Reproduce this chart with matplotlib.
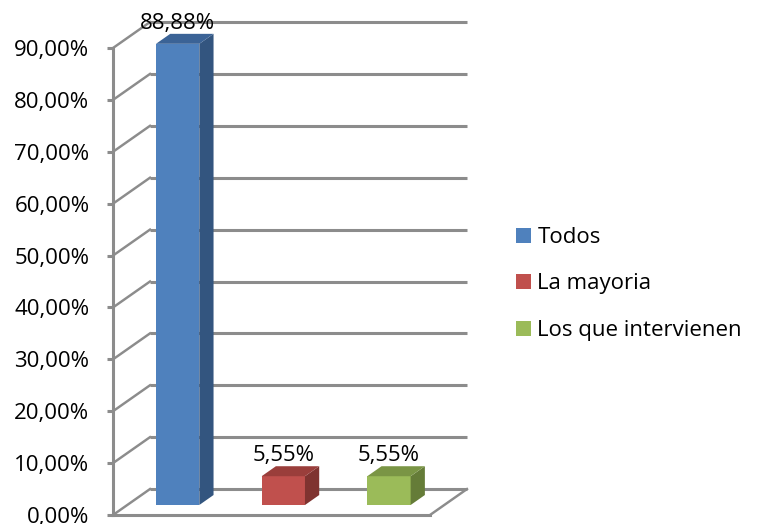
import matplotlib
matplotlib.use("Agg")
import matplotlib.pyplot as plt
from matplotlib.patches import Polygon, Patch
from matplotlib.ticker import FuncFormatter

categories = ["Todos", "La mayoria", "Los que intervienen"]
values = [88.88, 5.55, 5.55]
labels = ["88,88%", "5,55%", "5,55%"]
yticks = [0, 10, 20, 30, 40, 50, 60, 70, 80, 90]

front_colors = ["#4F81BD", "#C0504D", "#9BBB59"]
top_colors = ["#3B6396", "#9A3E3B", "#7A9545"]
side_colors = ["#33557F", "#7F3330", "#657C38"]

FONT = ["Open Sans", "DejaVu Sans"]
plt.rcParams["font.family"] = FONT
FS = 16

W, H = 762, 524
fig = plt.figure(figsize=(W / 100, H / 100), dpi=100)
# axes box = front plane of the 3D chart
L, R, B, T = 113, 430, 515, 48
ax = fig.add_axes([L / W, (H - B) / H, (R - L) / W, (B - T) / H])
ax.set_xlim(0, 3)
ax.set_ylim(0, 90)

# depth of the wall (data units)
ddx, ddy = 0.35, 5.0
f1, f2 = 0.385, 0.77
grid_c = "#8C8C8C"
lw = 2.2

# back wall gridlines and diagonals
for yv in yticks:
    ax.plot([ddx, 3 + ddx], [yv + ddy, yv + ddy], color=grid_c, lw=lw,
            clip_on=False, zorder=1, solid_capstyle="butt")
    ax.plot([0, ddx], [yv, yv + ddy], color=grid_c, lw=lw * 0.8,
            clip_on=False, zorder=1)
# floor front edge & right diagonal
ax.plot([0, 3], [0, 0], color=grid_c, lw=lw, clip_on=False, zorder=1)
ax.plot([3, 3 + ddx], [0, ddy], color=grid_c, lw=lw * 0.8, clip_on=False, zorder=1)

# bars
bw = 0.41
for i, (v, lab) in enumerate(zip(values, labels)):
    x0 = i + 0.272 + f1 * ddx
    x1 = x0 + bw
    y0 = f1 * ddy
    sx = (f2 - f1) * ddx
    sy = (f2 - f1) * ddy
    front = Polygon([(x0, y0), (x1, y0), (x1, y0 + v), (x0, y0 + v)],
                    closed=True, fc=front_colors[i], ec="none", zorder=3, clip_on=False)
    side = Polygon([(x1, y0), (x1 + sx, y0 + sy), (x1 + sx, y0 + sy + v), (x1, y0 + v)],
                   closed=True, fc=side_colors[i], ec="none", zorder=3, clip_on=False)
    top = Polygon([(x0, y0 + v), (x1, y0 + v), (x1 + sx, y0 + v + sy), (x0 + sx, y0 + v + sy)],
                  closed=True, fc=top_colors[i], ec="none", zorder=3, clip_on=False)
    for p in (front, side, top):
        ax.add_patch(p)
    ax.annotate(lab, xy=((x0 + x1) / 2, y0 + v + sy), xytext=(0, 0),
                textcoords="offset points", ha="center", va="bottom",
                fontsize=FS, color="#000000", zorder=5, annotation_clip=False)

# axis styling
for s in ["top", "right", "bottom"]:
    ax.spines[s].set_visible(False)
ax.spines["left"].set_color(grid_c)
ax.spines["left"].set_linewidth(lw)
ax.spines["left"].set_zorder(2)
ax.set_xticks([])
ax.set_yticks(yticks)
ax.yaxis.set_major_formatter(FuncFormatter(lambda v, p: f"{v:.2f}".replace(".", ",") + "%"))
ax.tick_params(axis="y", direction="out", length=4, width=lw, color=grid_c,
               labelsize=FS, pad=13, labelcolor="#000000")
ax.patch.set_visible(False)

handles = [Patch(facecolor=c, edgecolor="none") for c in front_colors]
fig.legend(handles, categories, loc="center left", bbox_to_anchor=(496 / W, 1 - 284 / H),
           frameon=False, fontsize=FS, handlelength=0.68, handleheight=0.68,
           handletextpad=0.28, labelspacing=1.15)

fig.savefig("out.png", dpi=100)
